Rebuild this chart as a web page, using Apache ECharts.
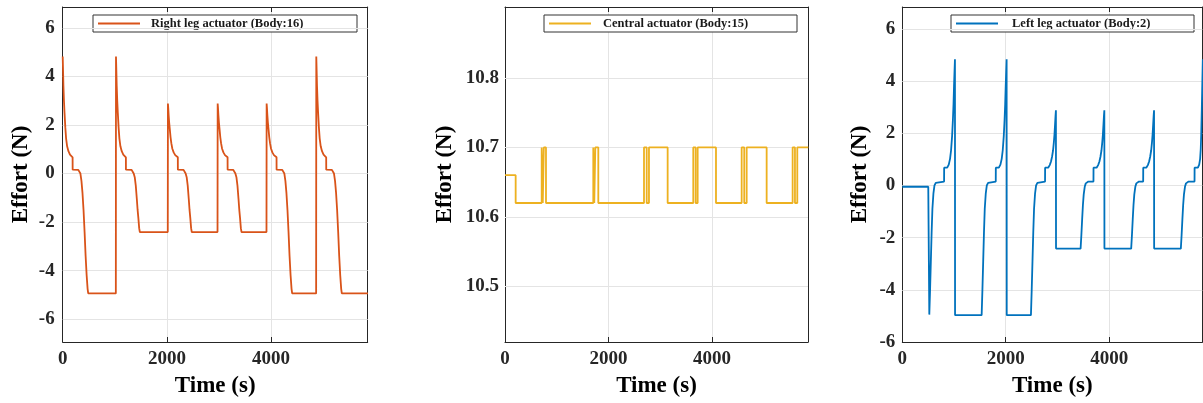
<!DOCTYPE html>
<html><head><meta charset="utf-8">
<script src="https://cdn.jsdelivr.net/npm/echarts@6/dist/echarts.min.js"></script>
<style>html,body{margin:0;padding:0;background:#fff}#c{width:1203px;height:403px}</style>
</head><body><div id="c"></div><script>
// ---------- data ----------
const seriesNames = ['Right leg actuator (Body:16)', 'Central actuator (Body:15)', 'Left leg actuator (Body:2)'];
const xTicks = [0, 2000, 4000];
const sideYTicks = [-6, -4, -2, 0, 2, 4, 6];
const centralYTicks = [10.5, 10.6, 10.7, 10.8];

const rightLegTime = [
 0,6,14,24,35,50,65,85,110,140,170,190,191,300,320,340,360,380,400,420,440,460,478,490,1020,
 1023,1029,1037,1047,1058,1073,1088,1108,1133,1163,1193,1213,1214,1323,1343,1363,1383,1403,1423,1438,1453,1468,1481,2017,
 2020,2026,2034,2044,2055,2070,2085,2105,2130,2160,2190,2210,2211,2320,2340,2360,2380,2400,2420,2435,2450,2465,2478,2972,
 2975,2981,2989,2999,3010,3025,3040,3060,3085,3115,3145,3165,3166,3275,3295,3315,3335,3355,3375,3390,3405,3420,3433,3912,
 3915,3921,3929,3939,3950,3965,3980,4000,4025,4055,4085,4105,4106,4215,4235,4255,4275,4295,4315,4335,4355,4375,4393,4405,4865,
 4868,4874,4882,4892,4903,4918,4933,4953,4978,5008,5038,5058,5059,5168,5188,5208,5228,5248,5268,5288,5308,5328,5346,5358,5860
];
const rightLegEffort = [
 4.82,4.3,3.6,3.0,2.5,1.9,1.45,1.12,0.92,0.78,0.7,0.67,0.16,0.15,0.12,0.0,-0.3,-0.8,-1.5,-2.4,-3.4,-4.2,-4.75,-4.94,-4.94,
 4.82,4.3,3.6,3.0,2.5,1.9,1.45,1.12,0.92,0.78,0.7,0.67,0.16,0.15,0.12,0.0,-0.15,-0.5,-1.05,-1.5,-1.85,-2.25,-2.41,-2.41,
 2.88,2.7,2.4,2.1,1.85,1.5,1.25,1.02,0.87,0.76,0.7,0.67,0.16,0.15,0.12,0.0,-0.15,-0.5,-1.05,-1.5,-1.85,-2.25,-2.41,-2.41,
 2.88,2.7,2.4,2.1,1.85,1.5,1.25,1.02,0.87,0.76,0.7,0.67,0.16,0.15,0.12,0.0,-0.15,-0.5,-1.05,-1.5,-1.85,-2.25,-2.41,-2.41,
 2.88,2.7,2.4,2.1,1.85,1.5,1.25,1.02,0.87,0.76,0.7,0.67,0.16,0.15,0.12,0.0,-0.3,-0.8,-1.5,-2.4,-3.4,-4.2,-4.75,-4.94,-4.94,
 4.82,4.3,3.6,3.0,2.5,1.9,1.45,1.12,0.92,0.78,0.7,0.67,0.16,0.15,0.12,0.0,-0.3,-0.8,-1.5,-2.4,-3.4,-4.2,-4.75,-4.94,-4.94
];

const centralTime = [0,206,709,730,750,792,1706,1725,1745,1803,2686,2738,2782,3143,3638,3684,3723,4077,4573,4623,4670,5056,5558,5603,5648,5860];
const centralEffort = [10.66,10.62,10.70,10.62,10.70,10.62,10.70,10.62,10.70,10.62,10.70,10.62,10.70,10.62,10.70,10.62,10.70,10.62,10.70,10.62,10.70,10.62,10.70,10.62,10.70,10.70];

const leftLegTime = [
 0,502,522,537,552,567,582,602,622,647,672,
 808,809,868,898,923,943,963,978,990,1000,1010,1018,1020,1534,
 1549,1564,1579,1594,1614,1634,1659,1684,
 1807,1808,1867,1897,1922,1942,1962,1977,1989,1999,2009,2017,2019,2487,
 2502,2517,2532,2547,2567,2587,2612,2637,
 2760,2761,2820,2850,2875,2895,2915,2930,2942,2952,2962,2970,2972,3447,
 3462,3477,3492,3507,3527,3547,3572,3597,
 3696,3697,3756,3786,3811,3831,3851,3866,3878,3888,3898,3906,3908,4425,
 4440,4455,4470,4485,4505,4525,4550,4575,
 4657,4658,4717,4747,4772,4792,4812,4827,4839,4849,4859,4867,4869,5385,
 5400,5415,5430,5445,5465,5485,5510,5535,
 5650,5651,5715,5740,5758,5770,5780,5790,5800,5810
];
const leftLegEffort = [
 -0.05,-0.05,-4.95,-4.0,-2.9,-1.8,-0.9,-0.3,0.0,0.1,0.15,
 0.15,0.68,0.68,0.8,1.02,1.35,1.9,2.5,3.1,3.8,4.4,4.84,-4.97,-4.97,
 -4.0,-2.9,-1.8,-0.9,-0.3,0.0,0.1,0.15,
 0.15,0.68,0.68,0.8,1.02,1.35,1.9,2.5,3.1,3.8,4.4,4.84,-4.97,-4.97,
 -4.0,-2.9,-1.8,-0.9,-0.3,0.0,0.1,0.15,
 0.15,0.68,0.68,0.78,0.92,1.1,1.35,1.65,1.95,2.3,2.65,2.88,-2.42,-2.42,
 -1.9,-1.3,-0.75,-0.35,-0.05,0.08,0.13,0.15,
 0.15,0.68,0.68,0.78,0.92,1.1,1.35,1.65,1.95,2.3,2.65,2.88,-2.42,-2.42,
 -1.9,-1.3,-0.75,-0.35,-0.05,0.08,0.13,0.15,
 0.15,0.68,0.68,0.78,0.92,1.1,1.35,1.65,1.95,2.3,2.65,2.88,-2.42,-2.42,
 -1.9,-1.3,-0.75,-0.35,-0.05,0.08,0.13,0.15,
 0.15,0.68,0.68,0.8,1.02,1.4,2.0,2.9,3.9,4.84
];

// ---------- layout / style ----------
const FONT = '"Liberation Serif", "Times New Roman", serif';
const AX = '#262626';
const GRIDC = '#e4e4e4';
const colors = ['#D95319', '#EDB120', '#0072BD'];
const LEGEND_ICON = 'path://M0,0L0.01,0L0,0.01Z M0,5.6L42,5.6L42,7.4L0,7.4Z M42,13L41.99,13L42,12.99Z';
const panels = [
  {grid:{left:62.7, top:7, width:305, height:336}, xMax:5855, yMin:-6.94, yMax:6.86, yTicks:sideYTicks,
   t:rightLegTime, v:rightLegEffort, step:false, labelMargin:8, nameGap:30,
   legend:{left:93, textPad:6, textW:203}},
  {grid:{left:505, top:7, width:303, height:336}, xMax:5855, yMin:10.42, yMax:10.902, yTicks:centralYTicks,
   t:centralTime, v:centralEffort, step:'end', labelMargin:6, nameGap:48,
   legend:{left:544, textPad:7, textW:191}},
  {grid:{left:902.3, top:7, width:300, height:335.5}, xMax:5800, yMin:-6, yMax:6.84, yTicks:sideYTicks,
   t:leftLegTime, v:leftLegEffort, step:false, labelMargin:7, nameGap:31,
   legend:{left:951, textPad:9, textW:179}},
];

const grid = [], xAxis = [], yAxis = [], series = [], legend = [];
const lbl = {fontFamily:FONT, fontWeight:'bold', fontSize:19, color:AX, formatter:(v) => String(v)};
const nameStyle = {fontFamily:FONT, fontWeight:'bold', fontSize:23, color:'#000'};
const axLine = {show:true, onZero:false, lineStyle:{color:AX, width:1}};
const tick = {show:true, inside:true, length:5, lineStyle:{color:AX, width:1}};

panels.forEach((p, i) => {
  grid.push(Object.assign({containLabel:false}, p.grid));
  const xCommon = {gridIndex:i, type:'value', min:0, max:p.xMax, interval:2000};
  xAxis.push(Object.assign({}, xCommon, {
    position:'bottom', name:'Time (s)', nameLocation:'middle', nameGap:33, nameTextStyle:nameStyle,
    axisLine:axLine, axisTick:Object.assign({customValues:xTicks}, tick),
    axisLabel:Object.assign({margin:8, customValues:xTicks}, lbl),
    splitLine:{show:true, lineStyle:{color:GRIDC, width:1}}
  }));
  xAxis.push(Object.assign({}, xCommon, {
    position:'top', axisLine:axLine, axisTick:Object.assign({customValues:xTicks}, tick),
    axisLabel:{show:false}, splitLine:{show:false}
  }));
  const yCommon = {gridIndex:i, type:'value', min:p.yMin, max:p.yMax};
  yAxis.push(Object.assign({}, yCommon, {
    position:'left', name:'Effort (N)', nameLocation:'middle', nameGap:p.nameGap, nameTextStyle:nameStyle,
    axisLine:axLine, axisTick:Object.assign({customValues:p.yTicks}, tick),
    axisLabel:Object.assign({margin:p.labelMargin, customValues:p.yTicks}, lbl),
    splitLine:{show:false}
  }));
  yAxis.push(Object.assign({}, yCommon, {
    position:'right', axisLine:axLine, axisTick:Object.assign({customValues:p.yTicks}, tick),
    axisLabel:{show:false}, splitLine:{show:false}
  }));
  series.push({
    type:'line', name:seriesNames[i], xAxisIndex:2*i, yAxisIndex:2*i,
    data:p.t.map((t, k) => [t, p.v[k]]), step:p.step,
    symbol:'none', showSymbol:false, clip:true, z:5,
    lineStyle:{color:colors[i], width:1.8}, itemStyle:{color:colors[i]}
  });
  // horizontal gridlines drawn at tick values
  series.push({
    type:'line', xAxisIndex:2*i, yAxisIndex:2*i, data:[], silent:true,
    markLine:{silent:true, symbol:'none', label:{show:false}, animation:false,
      lineStyle:{color:GRIDC, width:1, type:'solid'},
      data:p.yTicks.filter(v => v > p.yMin && v < p.yMax).map(v => ({yAxis:v}))}
  });
  legend.push({
    data:[{name:seriesNames[i], icon:LEGEND_ICON}], left:p.legend.left, top:15, orient:'horizontal',
    padding:[2,3,2,5], itemWidth:42, itemHeight:13, itemGap:0,
    itemStyle:{color:colors[i], borderWidth:0},
    borderColor:'#333', borderWidth:1, backgroundColor:'#fff', selectedMode:false,
    textStyle:{fontFamily:FONT, fontWeight:'bold', fontSize:12.5, color:'#1a1a1a',
      width:p.legend.textW, padding:[0,0,0,p.legend.textPad], lineHeight:13}
  });
});

const chart = echarts.init(document.getElementById('c'), null, {renderer:'canvas'});
chart.setOption({animation:false, backgroundColor:'#fff', grid, xAxis, yAxis, series, legend});
</script></body></html>
